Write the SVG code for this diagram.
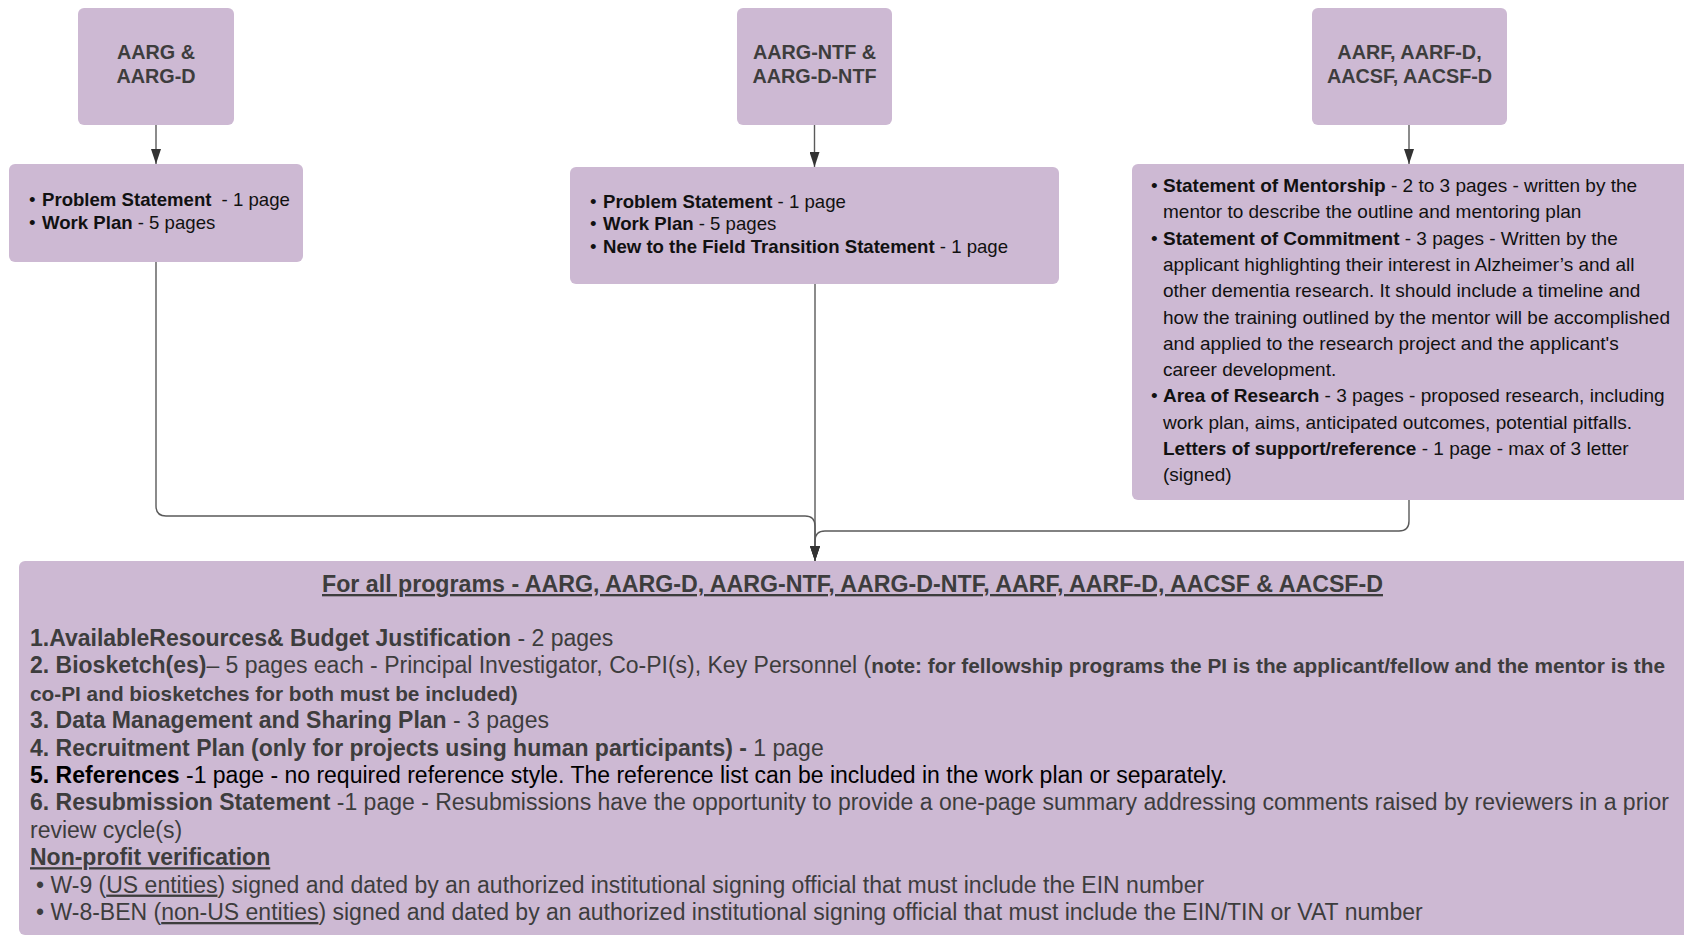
<svg xmlns="http://www.w3.org/2000/svg" width="1684" height="938" viewBox="0 0 1684 938">
<style>
.box{fill:#cdb9d3;}
.ttl{font-family:"Liberation Sans",Arial,sans-serif;font-weight:bold;font-size:19.8px;fill:#3d3d3d;text-anchor:middle;}
.bt{font-family:"Liberation Sans",Arial,sans-serif;font-size:18.6px;fill:#111;}
.rt{font-family:"Liberation Sans",Arial,sans-serif;font-size:19px;fill:#111;}
.mt{font-family:"Liberation Sans",Arial,sans-serif;font-size:23px;fill:#3d3d3d;}
.hd{font-size:23.2px;}
.b{font-weight:bold;}
.nt{font-weight:bold;font-size:20.8px;}
.u{text-decoration:underline;}
.con{fill:none;stroke:#5a5a5a;stroke-width:1.4;}
</style>
<defs>
<marker id="arr" markerUnits="userSpaceOnUse" markerWidth="15" markerHeight="10" refX="15" refY="5" orient="auto">
<path d="M0,0 L15,5 L0,10 z" fill="#333"/>
</marker>
</defs>

<g id="connectors">
<path class="con" d="M156,125 V164" marker-end="url(#arr)"/>
<path class="con" d="M814.5,125 V167" marker-end="url(#arr)"/>
<path class="con" d="M1409,125 V164" marker-end="url(#arr)"/>
<path class="con" d="M156,262 V506 Q156,516 166,516 H805 Q815,516 815,526 V561" marker-end="url(#arr)"/>
<path class="con" d="M815,284 V561" marker-end="url(#arr)"/>
<path class="con" d="M1409,500 V521 Q1409,531 1399,531 H825 Q815,531 815,541 V561" marker-end="url(#arr)"/>
</g>

<g id="node-aarg">
<rect class="box" x="78" y="8" width="156" height="117" rx="6"/>
<text class="ttl" x="156" y="59">AARG &amp;</text>
<text class="ttl" x="156" y="83">AARG-D</text>
</g>

<g id="node-aarg-ntf">
<rect class="box" x="737" y="8" width="155" height="117" rx="6"/>
<text class="ttl" x="814.5" y="59">AARG-NTF &amp;</text>
<text class="ttl" x="814.5" y="83">AARG-D-NTF</text>
</g>

<g id="node-aarf">
<rect class="box" x="1312" y="8" width="195" height="117" rx="6"/>
<text class="ttl" x="1409.5" y="59">AARF, AARF-D,</text>
<text class="ttl" x="1409.5" y="83">AACSF, AACSF-D</text>
</g>

<g id="node-aarg-req">
<rect class="box" x="9" y="164" width="294" height="98" rx="6"/>
<text class="bt" x="29" y="206">•</text>
<text class="bt" x="42" y="206"><tspan class="b">Problem Statement</tspan><tspan dx="5">  - 1 page</tspan></text>
<text class="bt" x="29" y="229">•</text>
<text class="bt" x="42" y="229"><tspan class="b">Work Plan</tspan> - 5 pages</text>
</g>

<g id="node-ntf-req">
<rect class="box" x="570" y="167" width="489" height="117" rx="6"/>
<text class="bt" x="590" y="207.5">•</text>
<text class="bt" x="603" y="207.5"><tspan class="b">Problem Statement</tspan> - 1 page</text>
<text class="bt" x="590" y="230">•</text>
<text class="bt" x="603" y="230"><tspan class="b">Work Plan</tspan> - 5 pages</text>
<text class="bt" x="590" y="252.5">•</text>
<text class="bt" x="603" y="252.5"><tspan class="b">New to the Field Transition Statement</tspan> - 1 page</text>
</g>

<g id="node-aarf-req">
<rect class="box" x="1132" y="164" width="560" height="336" rx="6"/>
<text class="rt" x="1151" y="192">•</text>
<text class="rt" x="1163" y="192"><tspan class="b">Statement of Mentorship</tspan> - 2 to 3 pages - written by the</text>
<text class="rt" x="1163" y="218.3">mentor to describe the outline and mentoring plan</text>
<text class="rt" x="1151" y="244.6">•</text>
<text class="rt" x="1163" y="244.6"><tspan class="b">Statement of Commitment</tspan> - 3 pages - Written by the</text>
<text class="rt" x="1163" y="270.9">applicant highlighting their interest in Alzheimer’s and all</text>
<text class="rt" x="1163" y="297.2">other dementia research. It should include a timeline and</text>
<text class="rt" x="1163" y="323.5">how the training outlined by the mentor will be accomplished</text>
<text class="rt" x="1163" y="349.8">and applied to the research project and the applicant's</text>
<text class="rt" x="1163" y="376.1">career development.</text>
<text class="rt" x="1151" y="402.4">•</text>
<text class="rt" x="1163" y="402.4"><tspan class="b">Area of Research</tspan> - 3 pages - proposed research, including</text>
<text class="rt" x="1163" y="428.7">work plan, aims, anticipated outcomes, potential pitfalls.</text>
<text class="rt" x="1163" y="455"><tspan class="b">Letters of support/reference</tspan> - 1 page - max of 3 letter</text>
<text class="rt" x="1163" y="481.3">(signed)</text>
</g>

<g id="node-all">
<rect class="box" x="19" y="561" width="1673" height="374" rx="6"/>
<text class="mt hd b u" x="852.5" y="592" text-anchor="middle">For all programs - AARG, AARG-D, AARG-NTF, AARG-D-NTF, AARF, AARF-D, AACSF &amp; AACSF-D</text>
<text class="mt" x="30" y="646"><tspan class="b">1.AvailableResources&amp; Budget Justification</tspan> - 2 pages</text>
<text class="mt" x="30" y="673.4"><tspan class="b">2. Biosketch(es)</tspan>– 5 pages each - Principal Investigator, Co-PI(s), Key Personnel (<tspan class="nt">note: for fellowship programs the PI is the applicant/fellow and the mentor is the</tspan></text>
<text class="mt nt" x="30" y="700.8">co-PI and biosketches for both must be included)</text>
<text class="mt" x="30" y="728.2"><tspan class="b">3. Data Management and Sharing Plan</tspan> - 3 pages</text>
<text class="mt" x="30" y="755.6"><tspan class="b">4. Recruitment Plan (only for projects using human participants) -</tspan> 1 page</text>
<text class="mt" x="30" y="783" style="fill:#000"><tspan class="b">5. References</tspan> -1 page - no required reference style. The reference list can be included in the work plan or separately.</text>
<text class="mt" x="30" y="810.4"><tspan class="b">6. Resubmission Statement</tspan> -1 page - Resubmissions have the opportunity to provide a one-page summary addressing comments raised by reviewers in a prior</text>
<text class="mt" x="30" y="837.8">review cycle(s)</text>
<text class="mt b u" x="30" y="865.2">Non-profit verification</text>
<text class="mt" x="36" y="892.6">• W-9 (<tspan class="u">US entities</tspan>) signed and dated by an authorized institutional signing official that must include the EIN number</text>
<text class="mt" x="36" y="920">• W-8-BEN (<tspan class="u">non-US entities</tspan>) signed and dated by an authorized institutional signing official that must include the EIN/TIN or VAT number</text>
</g>
</svg>
